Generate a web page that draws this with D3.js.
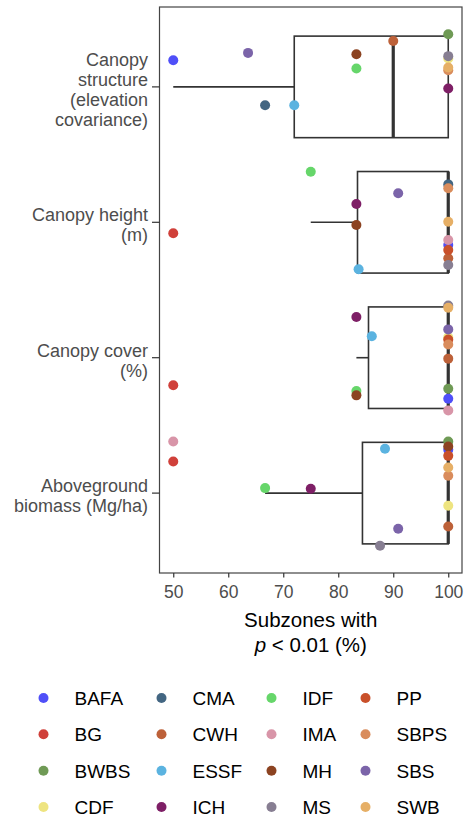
<!DOCTYPE html>
<html>
<head>
<meta charset="utf-8">
<script src="https://d3js.org/d3.v7.min.js"></script>
<style>
  body { margin: 0; background: #fff; }
  text { font-family: "Liberation Sans", Arial, sans-serif; }
</style>
</head>
<body>
<svg id="chart" width="465" height="819"></svg>
<script>
// ---- data ----
const catLabels = [
  ["Canopy", "structure", "(elevation", "covariance)"],
  ["Canopy height", "(m)"],
  ["Canopy cover", "(%)"],
  ["Aboveground", "biomass (Mg/ha)"]
];
const zones = ["BAFA", "BG", "BWBS", "CDF", "CMA", "CWH", "ESSF", "ICH",
               "IDF", "IMA", "MH", "MS", "PP", "SBPS", "SBS", "SWB"];
const zoneColors = ["#4f4ff8", "#d0403a", "#6f9a55", "#eee480", "#436682", "#bd6139", "#5bb3e0", "#7e1f66",
                    "#66d66a", "#d895a8", "#8c4321", "#877e92", "#c9502a", "#d98c5c", "#7b64a9", "#e6af66"];
const xTicks = [50, 60, 70, 80, 90, 100];

// box stats per category (whisker low, q1, median, q3, whisker high)
const boxLow  = [50, 75, 83.3, 66.7];
const boxQ1   = [72, 83.5, 85.5, 84.4];
const boxMed  = [90, 100, 100, 100];
const boxQ3   = [100, 100, 100, 100];
const boxHigh = [100, 100, 100, 100];

// points: [zone, % subzones, jittered position on category axis]
const structurePts = [
  ["BAFA", 50, 0.803], ["BWBS", 100, 0.611], ["CDF", 100, 0.79], ["CMA", 66.7, 1.135],
  ["CWH", 90, 0.661], ["ESSF", 72, 1.135], ["ICH", 100, 1.012], ["IDF", 83.3, 0.864],
  ["MH", 83.3, 0.759], ["MS", 100, 0.773], ["SBPS", 100, 0.877], ["SBS", 63.6, 0.749],
  ["SWB", 100, 0.857]
];
const heightPts = [
  ["BAFA", 100, 2.168], ["BG", 50, 2.081], ["CMA", 100, 1.72], ["CWH", 100, 2.266],
  ["ESSF", 83.7, 2.347], ["ICH", 83.3, 1.865], ["IDF", 75, 1.627], ["IMA", 100, 2.131],
  ["MH", 83.3, 2.02], ["MS", 100, 2.315], ["PP", 100, 2.204], ["SBPS", 100, 1.749],
  ["SBS", 90.9, 1.786], ["SWB", 100, 1.996]
];
const coverPts = [
  ["BAFA", 100, 3.303], ["BG", 50, 3.204], ["BWBS", 100, 3.229], ["CDF", 100, 2.85],
  ["CWH", 100, 3.007], ["ESSF", 86.1, 2.841], ["ICH", 83.3, 2.70], ["IDF", 83.3, 3.246],
  ["IMA", 100, 3.389], ["MH", 83.3, 3.278], ["MS", 100, 2.614], ["PP", 100, 2.865],
  ["SBPS", 100, 2.902], ["SBS", 100, 2.791], ["SWB", 100, 2.631]
];
const biomassPts = [
  ["BAFA", 100, 3.68], ["BG", 50, 3.767], ["BWBS", 100, 3.619], ["CDF", 100, 4.094],
  ["CWH", 100, 4.246], ["ESSF", 88.5, 3.673], ["ICH", 75, 3.968], ["IDF", 66.7, 3.963],
  ["IMA", 50, 3.619], ["MH", 100, 3.656], ["MS", 87.6, 4.389], ["PP", 100, 3.725],
  ["SBPS", 100, 3.872], ["SBS", 90.9, 4.263], ["SWB", 100, 3.811]
];

// ---- layout ----
const svg = d3.select("#chart");
const panel = {left: 159.5, right: 462, top: 7, bottom: 573};

const x = d3.scaleLinear().domain([47.5, 102.5]).range([panel.left, panel.right]);
const y = d3.scaleLinear().domain([0.41, 4.59]).range([panel.top, panel.bottom]);
const color = d3.scaleOrdinal().domain(zones).range(zoneColors);
const boxHalf = 0.375; // box width 0.75 in category units

svg.append("rect").attr("width", 465).attr("height", 819).attr("fill", "#fff");

// boxes
const boxG = svg.append("g").attr("stroke", "#333").attr("fill", "none");
catLabels.forEach(function(c, i) {
  const cy = y(i + 1);
  // whisker
  boxG.append("line")
    .attr("x1", x(boxLow[i])).attr("x2", x(boxQ1[i]))
    .attr("y1", cy).attr("y2", cy).attr("stroke-width", 1.6);
  if (boxHigh[i] > boxQ3[i]) {
    boxG.append("line")
      .attr("x1", x(boxQ3[i])).attr("x2", x(boxHigh[i]))
      .attr("y1", cy).attr("y2", cy).attr("stroke-width", 1.6);
  }
  boxG.append("rect")
    .attr("x", x(boxQ1[i])).attr("width", x(boxQ3[i]) - x(boxQ1[i]))
    .attr("y", y(i + 1 - boxHalf)).attr("height", y(i + 1 + boxHalf) - y(i + 1 - boxHalf))
    .attr("stroke-width", 1.6);
  boxG.append("line")
    .attr("x1", x(boxMed[i])).attr("x2", x(boxMed[i]))
    .attr("y1", y(i + 1 - boxHalf)).attr("y2", y(i + 1 + boxHalf))
    .attr("stroke-width", 3.2);
});

// points
const allPts = [structurePts, heightPts, coverPts, biomassPts];
const ptG = svg.append("g");
allPts.forEach(function(pts) {
  ptG.selectAll(null)
    .data(pts)
    .enter().append("circle")
      .attr("cx", function(d) { return x(d[1]); })
      .attr("cy", function(d) { return y(d[2]); })
      .attr("r", 5)
      .attr("fill", function(d) { return color(d[0]); });
});

// panel border
svg.append("rect")
  .attr("x", panel.left).attr("y", panel.top)
  .attr("width", panel.right - panel.left).attr("height", panel.bottom - panel.top)
  .attr("fill", "none").attr("stroke", "#444").attr("stroke-width", 1.2);

// x axis
const xAxis = svg.append("g").attr("transform", "translate(0," + panel.bottom + ")")
  .call(d3.axisBottom(x).tickValues(xTicks).tickSize(4.5).tickPadding(8));
xAxis.select(".domain").remove();
xAxis.selectAll(".tick line").attr("stroke", "#333").attr("stroke-width", 1.2);
xAxis.selectAll(".tick text").attr("fill", "#4d4d4d").style("font-size", "17.5px")
  .style("font-family", "Liberation Sans, Arial, sans-serif");

// y axis (category labels)
const yAxisG = svg.append("g");
catLabels.forEach(function(lines, i) {
  const cy = y(i + 1);
  yAxisG.append("line")
    .attr("x1", panel.left - 7.5).attr("x2", panel.left)
    .attr("y1", cy).attr("y2", cy)
    .attr("stroke", "#333").attr("stroke-width", 1.2);
  const t = yAxisG.append("text")
    .attr("text-anchor", "end")
    .attr("fill", "#4d4d4d")
    .style("font-size", "18px");
  lines.forEach(function(l, j) {
    t.append("tspan")
      .attr("x", 148)
      .attr("y", cy - (lines.length - 1) * 10 + 9 + j * 20)
      .text(l);
  });
});

// x axis title
const title = svg.append("text")
  .attr("text-anchor", "middle").attr("fill", "#000")
  .style("font-size", "20.5px");
title.append("tspan").attr("x", (panel.left + panel.right) / 2).attr("y", 627).text("Subzones with");
const t2 = title.append("tspan").attr("x", (panel.left + panel.right) / 2).attr("y", 652);
t2.append("tspan").style("font-style", "italic").text("p");
t2.append("tspan").text(" < 0.01 (%)");

// legend, filled column-wise, 4 rows
const legColX = [43.5, 161.5, 271.5, 365.5];
const legRowY = d3.scaleLinear().domain([0, 3]).range([698, 807]);
const leg = svg.append("g");
zones.forEach(function(z, k) {
  const col = Math.floor(k / 4), row = k % 4;
  const g = leg.append("g")
    .attr("transform", "translate(" + legColX[col] + "," + legRowY(row) + ")");
  g.append("circle").attr("r", 5).attr("fill", color(z));
  g.append("text").attr("x", 31).attr("dy", "0.36em")
    .attr("fill", "#000").style("font-size", "19px").text(z);
});
</script>
</body>
</html>
